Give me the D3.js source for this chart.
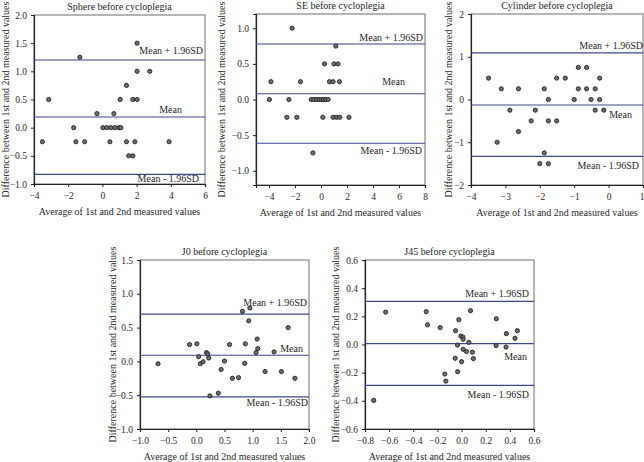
<!DOCTYPE html>
<html>
<head>
<meta charset="utf-8">
<script src="https://cdn.jsdelivr.net/npm/d3@7/dist/d3.min.js"></script>
<style>
  body { margin: 0; background: #fff; }
  text { font-family: "Liberation Serif", "DejaVu Serif", serif; fill: #262626; }
</style>
</head>
<body>
<script>
// ---- data ----
let sphereX = [-3.51, -3.14, -1.32, -1.68, -1.55, -1.04, -0.32, 0.03, 0.26, 0.49, 0.73, 0.96, 1.08, 0.44, 0.67, 1.04, 1.41, 1.41, 1.54, 1.78, 1.78, 2.03, 1.9, 2.03, 2.03, 2.77, 3.9];
let sphereY = [-0.25, 0.5, 1.25, 0, -0.25, -0.25, 0.25, 0, 0, 0, 0, 0, 0, -0.25, 0.25, 0.5, 0.75, -0.25, -0.5, -0.5, 0.5, 0.5, -0.25, 1.5, 1.0, 1.0, -0.25];
let sphereLines = [0.19, 1.20, -0.83];   // mean, +1.96SD, -1.96SD

let seX = [-2.22, 1.14, 0.27, 1.0, 1.31, -3.85, -1.58, 0.65, 0.93, 1.42, -3.97, -2.47, -0.75, -0.55, -0.35, -0.15, 0.05, 0.2, 0.35, 0.55, -2.63, -1.86, 0.14, 0.93, 1.19, 1.44, 2.15, -0.62];
let seY = [1.0, 0.75, 0.5, 0.5, 0.5, 0.25, 0.25, 0.25, 0.25, 0.25, 0, 0, 0, 0, 0, 0, 0, 0, 0, 0, -0.25, -0.25, -0.25, -0.25, -0.25, -0.25, -0.25, -0.75];
let seLines = [0.08, 0.78, -0.615];

let cylX = [-3.49, -3.12, -2.62, -2.87, -3.24, -2.62, -2.13, -2.25, -1.87, -1.75, -1.75, -1.87, -2.0, -1.75, -1.51, -1.51, -1.26, -1.0, -0.88, -0.88, -0.64, -0.64, -0.51, -0.39, -0.39, -0.26, -0.26, -0.14];
let cylY = [0.5, 0.25, 0.25, -0.25, -1.0, -0.75, -0.25, -0.5, 0.25, 0, -0.5, -1.25, -1.5, -1.5, 0.5, -0.5, 0.5, 0, 0.75, 0.25, 0.75, 0.25, 0, 0.25, -0.25, 0.5, 0, -0.25];
let cylLines = [-0.13, 1.09, -1.33];

let j0X = [-0.68, -0.12, 0.01, 0.04, 0.07, 0.12, 0.18, 0.2, 0.22, 0.24, 0.44, 0.5, 0.39, 0.59, 0.64, 0.75, 0.82, 0.95, 0.93, 0.87, 0.86, 1.08, 1.09, 1.06, 1.22, 1.38, 1.51, 1.63, 1.75];
let j0Y = [-0.035, 0.25, 0.26, 0.07, -0.035, -0.005, 0.13, 0.11, 0.05, -0.51, -0.12, 0.005, -0.47, 0.25, -0.25, -0.24, 0.74, 0.79, 0.6, 0.26, -0.03, 0.33, 0.19, 0.13, -0.15, 0.14, -0.15, 0.5, -0.25];
let j0Lines = [0.09, 0.70, -0.525];

let j45X = [-0.629, -0.293, -0.282, -0.177, -0.023, 0.074, -0.05, -0.006, 0.011, 0.013, 0.06, -0.034, 0.013, 0.04, 0.09, 0.098, -0.053, 0.0, -0.033, -0.139, -0.13, -0.728, 0.288, 0.286, 0.371, 0.368, 0.443, 0.462];
let j45Y = [0.23, 0.233, 0.14, 0.12, 0.176, 0.24, 0.098, 0.06, 0.053, 0.037, 0.015, -0.004, -0.034, -0.05, -0.055, -0.10, -0.098, -0.122, -0.193, -0.21, -0.26, -0.397, 0.183, -0.008, 0.077, -0.018, 0.044, 0.098];
let j45Lines = [0.006, 0.306, -0.29];

let lineLabels = ["Mean", "Mean + 1.96SD", "Mean - 1.96SD"];
let xTitle = "Average of 1st and 2nd measured values";
let yTitle = "Difference between 1st and 2nd measured values";

let sphereXTicks = [-4, -2, 0, 2, 4, 6],        sphereYTicks = [-1, -0.5, 0, 0.5, 1, 1.5, 2];
let seXTicks = [-4, -2, 0, 2, 4, 6, 8],         seYTicks = [-1, -0.5, 0, 0.5, 1];
let cylXTicks = [-4, -3, -2, -1, 0, 1],         cylYTicks = [-2, -1, 0, 1, 2];
let j0XTicks = [-1, -0.5, 0, 0.5, 1, 1.5, 2],   j0YTicks = [-1, -0.5, 0, 0.5, 1, 1.5];
let j45XTicks = [-0.8, -0.6, -0.4, -0.2, 0, 0.2, 0.4, 0.6], j45YTicks = [-0.6, -0.4, -0.2, 0, 0.2, 0.4, 0.6];

// ---- layout ----
let w = 644, h = 462;
let svg = d3.select("body").append("svg").attr("width", w).attr("height", h);

// box = [left, top, right, bottom]; dy / inset = label offsets for [mean, upper, lower]
let panels = [
  { title: "Sphere before cycloplegia", xs: sphereX, ys: sphereY, lines: sphereLines,
    xd: [-4, 6], yd: [-1, 2], xt: sphereXTicks, yt: sphereYTicks, xf: d3.format("d"), yf: d3.format(".1f"),
    box: [34, 15, 205, 184], ylabX: 5, dy: [-7, -10, 4], inset: [23, 2, 6] },
  { title: "SE before cycloplegia", xs: seX, ys: seY, lines: seLines,
    xd: [-5, 8], yd: [-1.2, 1.2], xt: seXTicks, yt: seYTicks, xf: d3.format("d"), yf: d3.format(".1f"),
    box: [256, 14, 425, 185], ylabX: 221, dy: [-12, -6, 7], inset: [20, 2, 3] },
  { title: "Cylinder before cycloplegia", xs: cylX, ys: cylY, lines: cylLines,
    xd: [-4, 1], yd: [-2, 2], xt: cylXTicks, yt: cylYTicks, xf: d3.format("d"), yf: d3.format("d"),
    box: [471, 14, 643, 185], ylabX: 448, dy: [9, -7, 9], inset: [11, 0, 4], lastEnd: true },
  { title: "J0 before cycloplegia", xs: j0X, ys: j0Y, lines: j0Lines,
    xd: [-1, 2], yd: [-1, 1.5], xt: j0XTicks, yt: j0YTicks, xf: d3.format(".1f"), yf: d3.format(".1f"),
    box: [140, 260, 309, 429], ylabX: 112, dy: [-7, -12, 6], inset: [6, 2, 1] },
  { title: "J45 before cycloplegia", xs: j45X, ys: j45Y, lines: j45Lines,
    xd: [-0.8, 0.6], yd: [-0.6, 0.6], xt: j45XTicks, yt: j45YTicks, xf: d3.format(".1f"), yf: d3.format(".1f"),
    box: [365, 260, 534, 429], ylabX: 335, dy: [13, -8, 9], inset: [7, 5, 5] }
];

panels.forEach(function(p) {
  let [l, t, r, b] = p.box;
  let x = d3.scaleLinear().domain(p.xd).range([l, r]);
  let y = d3.scaleLinear().domain(p.yd).range([b, t]);
  let g = svg.append("g");

  // frame (top / right)
  g.append("rect").attr("x", l).attr("y", t).attr("width", r - l).attr("height", b - t)
    .attr("fill", "none").attr("stroke", "#6d6d6d").attr("stroke-width", 1);

  // axes
  let xAxis = g.append("g").attr("transform", "translate(0," + b + ")")
    .call(d3.axisBottom(x).tickValues(p.xt).tickFormat(p.xf).tickSize(3).tickPadding(5));
  let yAxis = g.append("g").attr("transform", "translate(" + l + ",0)")
    .call(d3.axisLeft(y).tickValues(p.yt).tickFormat(p.yf).tickSize(3).tickPadding(4));
  [xAxis, yAxis].forEach(function(a) {
    a.select(".domain").attr("stroke", "#222").attr("stroke-width", 1.2);
    a.selectAll(".tick line").attr("stroke", "#222");
    a.selectAll(".tick text").attr("font-size", "9.5px").attr("font-family", null).attr("fill", "#262626");
  });
  if (p.lastEnd) {
    // last tick sits on the page edge, keep it inside
    xAxis.selectAll(".tick:last-of-type text").attr("text-anchor", "end").attr("dx", 1);
  }

  // mean and limit lines
  g.selectAll("line.lim").data(p.lines).enter().append("line").attr("class", "lim")
    .attr("x1", l).attr("x2", r)
    .attr("y1", function(d) { return y(d); }).attr("y2", function(d) { return y(d); })
    .attr("stroke", "#3c4590").attr("stroke-width", 1.1);

  g.selectAll("text.lim").data(p.lines).enter().append("text").attr("class", "lim")
    .attr("x", function(d, i) { return r - p.inset[i]; })
    .attr("y", function(d, i) { return y(d) + p.dy[i]; })
    .attr("text-anchor", "end").attr("dominant-baseline", "central")
    .attr("font-size", "10px")
    .text(function(d, i) { return lineLabels[i]; });

  // points
  g.selectAll("circle").data(p.xs).enter().append("circle")
    .attr("cx", function(d) { return x(d); })
    .attr("cy", function(d, i) { return y(p.ys[i]); })
    .attr("r", 2.1)
    .attr("fill", "#6e6e6e").attr("stroke", "#1e1e1e").attr("stroke-width", 0.9);

  // titles
  g.append("text").attr("x", (l + r) / 2).attr("y", t - 9)
    .attr("text-anchor", "middle").attr("dominant-baseline", "central")
    .attr("font-size", "10px").text(p.title);
  g.append("text").attr("x", (l + r) / 2).attr("y", b + 27)
    .attr("text-anchor", "middle").attr("dominant-baseline", "central")
    .attr("font-size", "10px").text(xTitle);
  g.append("text").attr("transform", "translate(" + p.ylabX + "," + (t + b) / 2 + ") rotate(-90)")
    .attr("text-anchor", "middle").attr("dominant-baseline", "central")
    .attr("font-size", "10px").text(yTitle);
});
</script>
</body>
</html>
